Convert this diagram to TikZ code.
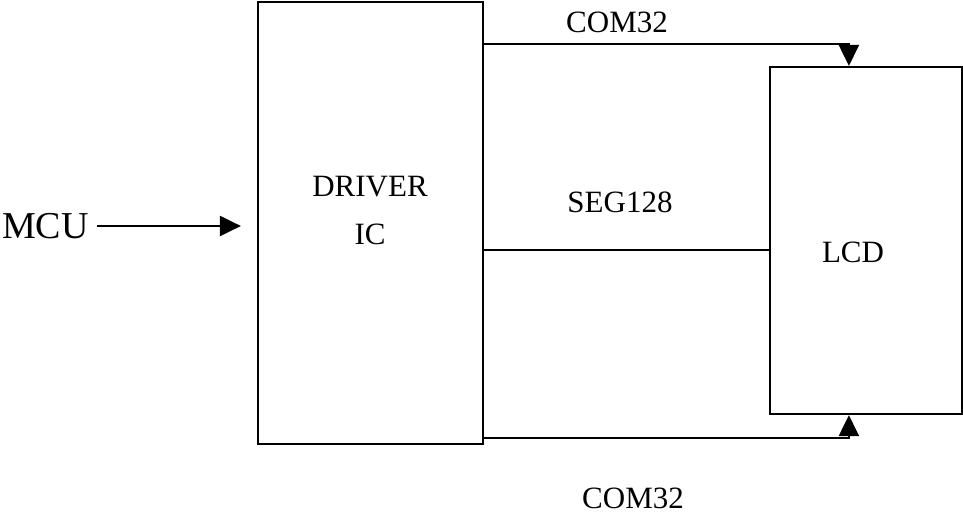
\documentclass[tikz,border=0pt]{standalone}
\usepackage{fontspec}
\setmainfont{Liberation Serif}
\usetikzlibrary{arrows.meta,calc}
\begin{document}
\begin{tikzpicture}[x=1pt,y=-1pt,
  box/.style={draw,line width=2.2pt,minimum width=#1,inner sep=0pt},
  lbl/.style={inner sep=0pt,font=\fontsize{31}{37}\selectfont},
  big/.style={inner sep=0pt,font=\fontsize{38}{45}\selectfont},
  wire/.style={line width=2.2pt},
  arr/.style={wire,-{Triangle[length=21pt,width=20pt]}}]
\useasboundingbox (0,0) rectangle (963,515);
% boxes
\node[box=225pt,minimum height=442pt] (drv) at (370.5,223) {};
\node[box=192pt,minimum height=347pt] (lcd) at (866,240.5) {};
% texts
\node[lbl] (drvt) at (370,187) {DRIVER};
\node[lbl] (ict) at (370,234) {IC};
\node[lbl] (lcdt) at (853,252) {LCD};
\node[big,anchor=west] (mcu) at (2,226) {MCU};
\node[lbl] (comtop) at (617,22) {COM32};
\node[lbl] (seg) at (620,202) {SEG128};
\node[lbl] (combot) at (633,498) {COM32};
% connectors
\draw[arr] ([xshift=8pt]mcu.east) -- ([xshift=-16pt]mcu.east -| drv.west);
\draw[arr] ($(drv.north east)+(0,43)$) -| ($(lcd.north west)+(80,0)$);
\draw[arr] ($(drv.south east)+(0,-7)$) -| ($(lcd.south west)+(80,0)$);
\coordinate (s) at ($(drv.east)+(0,27)$);
\draw[wire] (s) -- (s -| lcd.west);
\end{tikzpicture}
\end{document}
